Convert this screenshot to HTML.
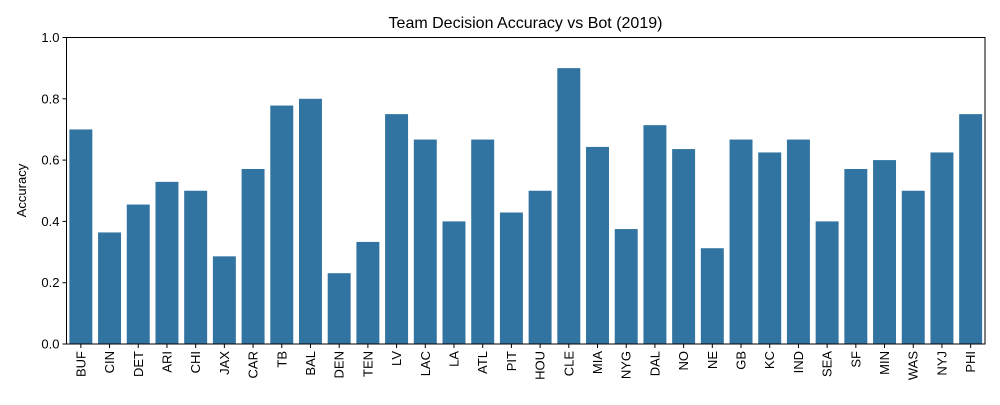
<!DOCTYPE html>
<html><head><meta charset="utf-8"><style>
body{margin:0;background:#fff;}
svg text{font-family:"Liberation Sans",sans-serif;fill:#000;}
</style></head><body>
<svg id="chart" width="1000" height="400">
<rect x="0" y="0" width="1000" height="400" fill="#fff"/>
<text x="525.5" y="28" font-size="16" text-anchor="middle">Team Decision Accuracy vs Bot (2019)</text>
<text transform="translate(26,190.5) rotate(-90)" font-size="13" text-anchor="middle">Accuracy</text>
<g id="bars"></g><g id="yticks"></g><g id="xticks"></g>
<rect x="66.5" y="37.5" width="918.5" height="306.5" fill="none" stroke="#000" stroke-width="1"/>
</svg>
<script>
const categories=["BUF","CIN","DET","ARI","CHI","JAX","CAR","TB","BAL","DEN","TEN","LV","LAC","LA","ATL","PIT","HOU","CLE","MIA","NYG","DAL","NO","NE","GB","KC","IND","SEA","SF","MIN","WAS","NYJ","PHI"];
const values=[0.70,0.364,0.455,0.529,0.5,0.286,0.571,0.778,0.8,0.231,0.333,0.75,0.667,0.4,0.667,0.429,0.5,0.9,0.643,0.375,0.714,0.636,0.3125,0.667,0.625,0.667,0.4,0.571,0.6,0.5,0.625,0.75];
const yTickLabels=["0.0","0.2","0.4","0.6","0.8","1.0"];
const yTicks=[0,0.2,0.4,0.6,0.8,1.0];
const ns="http://www.w3.org/2000/svg";
const X0=66.5,X1=985,Y0=344,Y1=37.5;
const band=(X1-X0)/categories.length;
const xs=i=>X0+band*i;
const ys=v=>Y0-(Y0-Y1)*v;
const bars=document.getElementById('bars'),xt=document.getElementById('xticks'),yt=document.getElementById('yticks');
categories.forEach((c,i)=>{
 const r=document.createElementNS(ns,'rect');
 r.setAttribute('x',xs(i)+band*0.1);r.setAttribute('width',band*0.8);
 r.setAttribute('y',ys(values[i]));r.setAttribute('height',Y0-ys(values[i]));
 r.setAttribute('fill','#3274a1');
 
 
 bars.appendChild(r);
 const cx=xs(i)+band/2;
 const l=document.createElementNS(ns,'line');
 l.setAttribute('x1',cx);l.setAttribute('x2',cx);l.setAttribute('y1',Y0);l.setAttribute('y2',Y0+4);l.setAttribute('stroke','#000');
 
 
 xt.appendChild(l);
 const t=document.createElementNS(ns,'text');
 t.setAttribute('transform','translate('+(cx+4.5)+','+(Y0+7)+') rotate(-90)');
 t.setAttribute('font-size','13');t.setAttribute('text-anchor','end');
 t.textContent=c;
 
 
 xt.appendChild(t);
});
yTicks.forEach((v,i)=>{
 const y=ys(v);
 const l=document.createElementNS(ns,'line');
 l.setAttribute('x1',X0-4);l.setAttribute('x2',X0);l.setAttribute('y1',y);l.setAttribute('y2',y);l.setAttribute('stroke','#000');
 
 
 yt.appendChild(l);
 const t=document.createElementNS(ns,'text');
 t.setAttribute('x',X0-7);t.setAttribute('y',y+4.5);t.setAttribute('font-size','13');t.setAttribute('text-anchor','end');
 t.textContent=yTickLabels[i];
 
 
 yt.appendChild(t);
});
</script>
</body></html>
